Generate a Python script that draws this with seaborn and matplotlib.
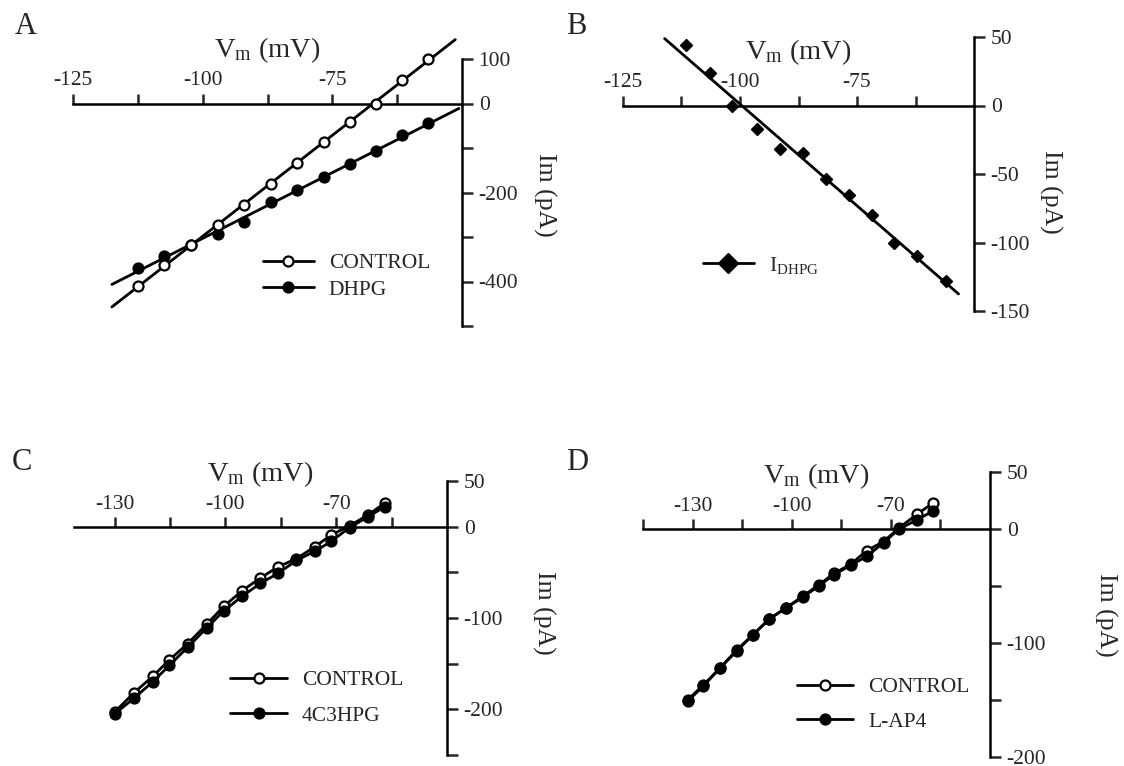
import matplotlib
matplotlib.use("Agg")
import matplotlib.pyplot as plt
from matplotlib.lines import Line2D
import numpy as np
import seaborn as sns

# Panel A: I-V, control vs DHPG
a_vm = [-112.5, -107.4, -102.3, -97.1, -92.0, -86.8, -81.8, -76.7, -71.6, -66.6, -61.5, -56.5]
a_control = [-411, -363, -319, -272, -227, -181, -134, -87, -42, 0, 53, 101]
a_dhpg = [-369, -342, -319, -294, -266, -222, -195, -166, -136, -107, -71, -44]

# Panel B: DHPG-induced current
b_vm = [-111.5, -106.5, -101.7, -96.4, -91.5, -86.5, -81.7, -76.8, -71.9, -67.0, -62.1, -55.9]
b_idhpg = [44, 24, 0, -17, -32, -35, -54, -65, -80, -100, -110, -128]

# Panel C: control vs 4C3HPG
c_vm = [-130.0, -124.8, -119.7, -115.2, -110.2, -105.1, -100.4, -95.4,
        -90.5, -85.7, -80.8, -75.8, -71.3, -66.4, -61.3, -56.8]
c_control = [-203, -182, -164, -146, -128, -107, -87, -70, -56, -44, -35, -22, -9, 1, 13, 26]
c_4c3hpg = [-205, -188, -170, -152, -132, -111, -92, -76, -62, -51, -37, -27, -16, -1, 11, 22]

# Panel D: control vs L-AP4
d_vm = [-131.5, -126.8, -121.7, -116.6, -111.8, -106.8, -101.6, -96.7,
        -91.8, -87.2, -82.2, -77.3, -72.2, -67.5, -62.1, -57.1]
d_control = [-150, -137, -122, -106, -93, -79, -69, -59, -49, -39, -31, -19, -11, 1, 13, 23]
d_lap4 = [-151, -138, -122, -107, -93, -79, -69, -60, -50, -40, -32, -24, -12, 0, 8, 16]

W, H = 1124, 766
LW = 2.0
MS = 7.2

sns.set_style("white")
plt.rcParams["font.family"] = ["Liberation Serif", "DejaVu Serif"]
plt.rcParams["mathtext.fontset"] = "custom"
plt.rcParams["mathtext.rm"] = "Liberation Serif"
plt.rcParams["mathtext.it"] = "Liberation Serif:italic"
plt.rcParams["axes.unicode_minus"] = False

fig = plt.figure(figsize=(W / 100, H / 100), dpi=100)


def make_axes(left, right, top, bottom):
    return fig.add_axes([left / W, 1 - bottom / H, (right - left) / W, (bottom - top) / H])


def style_axes(ax, xlim, ylim, xticks, xlabeled, yticks, ylabeled, ylab_xy):
    ax.set_xlim(xlim)
    ax.set_ylim(ylim)
    ax.set_facecolor("none")
    ax.grid(False)
    for side in ("left", "bottom"):
        ax.spines[side].set_visible(False)
    ax.spines["top"].set_position(("data", 0))
    for side in ("top", "right"):
        ax.spines[side].set_linewidth(1.8)
        ax.spines[side].set_color("black")

    ax.xaxis.tick_top()
    ax.xaxis.set_label_position("top")
    ax.set_xticks(xticks, [f"{t:g}" if t in xlabeled else "" for t in xticks])
    ax.tick_params(axis="x", direction="out", length=7, width=1.8, pad=2.4, labelsize=15.5)

    ax.yaxis.tick_right()
    ax.set_yticks(yticks, [f"{t:g}" if t in ylabeled else "" for t in yticks])
    ax.tick_params(axis="y", direction="out", length=8, width=1.8, pad=4, labelsize=15.5)

    ax.set_xlabel(r"V$_{\mathrm{m}}$ (mV)", fontsize=20.5, labelpad=10)
    ax.set_ylabel("Im (pA)", fontsize=18.5, rotation=-90, va="center", ha="center")
    ax.yaxis.set_label_coords(*ylab_xy)


def fit_line(x, y, lo_pad, hi_pad):
    slope, icpt = np.polyfit(x, y, 1)
    xs = np.array([min(x) - lo_pad, max(x) + hi_pad])
    return xs, slope * xs + icpt


def add_legend(ax, handles, labels, x, y, spacing, hlen):
    ax.legend(handles, labels, loc="upper left", bbox_to_anchor=(x / W, 1 - y / H),
              bbox_transform=fig.transFigure, frameon=False, borderpad=0, borderaxespad=0,
              handlelength=hlen, handletextpad=0.7, labelspacing=spacing, fontsize=15.5)


open_kw = dict(marker="o", markerfacecolor="white", markeredgecolor="black",
               markeredgewidth=1.6, markersize=MS)
fill_kw = dict(marker="o", markerfacecolor="black", markeredgecolor="black",
               markeredgewidth=1.6, markersize=MS)

# ---- A ----
ax = make_axes(73, 462, 59, 326)
style_axes(ax, (-125, -50), (-500, 100), np.arange(-125, -50, 12.5), [-125, -100, -75],
           np.arange(-500, 101, 100), [100, 0, -200, -400], (1.211, 0.49))
xs, ys = fit_line(a_vm, a_control, 5, 5.2)
sns.lineplot(x=xs, y=ys, ax=ax, color="black", lw=LW, clip_on=False)
xs, ys = fit_line(a_vm, a_dhpg, 5, 5.9)
sns.lineplot(x=xs, y=ys, ax=ax, color="black", lw=LW, clip_on=False)
ax.plot(a_vm, a_dhpg, ls="none", clip_on=False, zorder=3, **fill_kw)
ax.plot(a_vm, a_control, ls="none", clip_on=False, zorder=4, **open_kw)
h = [Line2D([], [], color="black", lw=LW, **open_kw), Line2D([], [], color="black", lw=LW, **fill_kw)]
add_legend(ax, h, ["CONTROL", "DHPG"], 263, 253, 0.3, 2.35)

# ---- B ----
ax = make_axes(623, 974, 37, 311)
style_axes(ax, (-125, -50), (-150, 50), np.arange(-125, -50, 12.5), [-125, -100, -75],
           np.arange(-150, 51, 50), [50, 0, -50, -100, -150], (1.217, 0.434))
xs, ys = fit_line(b_vm, b_idhpg, 4.6, 2.6)
sns.lineplot(x=xs, y=ys, ax=ax, color="black", lw=LW, clip_on=False)
ax.plot(b_vm, b_idhpg, ls="none", marker="D", color="black", markersize=6, clip_on=False, zorder=3)
h = [Line2D([], [], color="black", lw=LW, marker="D", markersize=10)]
add_legend(ax, h, [r"I$_{\mathrm{DHPG}}$"], 703, 255, 0.4, 2.35)

# ---- C ----
ax = make_axes(74, 447, 481, 755)
style_axes(ax, (-141, -40), (-250, 50), np.arange(-130, -40, 15), [-130, -100, -70],
           np.arange(-250, 51, 50), [50, 0, -100, -200], (1.26, 0.52))
sns.lineplot(x=c_vm, y=c_control, ax=ax, color="black", lw=LW, clip_on=False, zorder=3, **open_kw)
sns.lineplot(x=c_vm, y=c_4c3hpg, ax=ax, color="black", lw=LW, clip_on=False, zorder=4, **fill_kw)
h = [Line2D([], [], color="black", lw=LW, **open_kw), Line2D([], [], color="black", lw=LW, **fill_kw)]
add_legend(ax, h, ["CONTROL", "4C3HPG"], 230, 670, 0.72, 2.65)

# ---- D ----
ax = make_axes(643, 990, 472, 757)
style_axes(ax, (-145, -40), (-200, 50), np.arange(-145, -40, 15), [-130, -100, -70],
           np.arange(-200, 51, 50), [50, 0, -100, -200], (1.334, 0.498))
sns.lineplot(x=d_vm, y=d_control, ax=ax, color="black", lw=LW, clip_on=False, zorder=3, **open_kw)
sns.lineplot(x=d_vm, y=d_lap4, ax=ax, color="black", lw=LW, clip_on=False, zorder=4, **fill_kw)
h = [Line2D([], [], color="black", lw=LW, **open_kw), Line2D([], [], color="black", lw=LW, **fill_kw)]
add_legend(ax, h, ["CONTROL", "L-AP4"], 797, 677, 0.68, 2.6)

for letter, (x, y) in {"A": (26, 26), "B": (576, 26), "C": (22, 463), "D": (577, 462)}.items():
    fig.text(x / W, 1 - y / H, letter, fontsize=22, ha="center", va="center")

fig.savefig("out.png", dpi=100)
